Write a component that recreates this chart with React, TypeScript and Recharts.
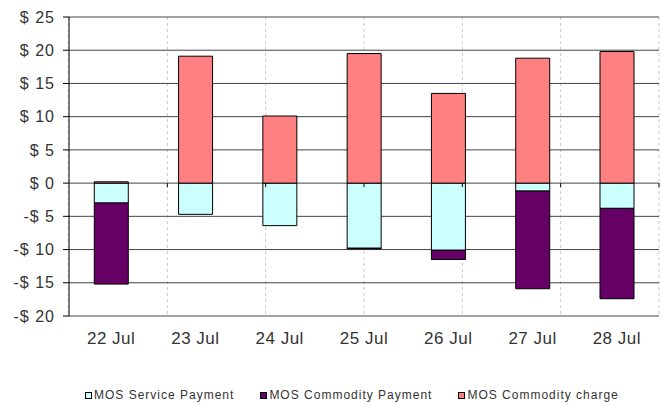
import { Bar, BarChart, CartesianGrid, Legend, ReferenceLine, XAxis, YAxis } from "recharts"

const days = ["22 Jul", "23 Jul", "24 Jul", "25 Jul", "26 Jul", "27 Jul", "28 Jul"]
const servicePayment = [-3.0, -4.7, -6.4, -9.8, -10.1, -1.2, -3.8]
const commodityPayment = [-12.2, 0, 0, -0.1, -1.4, -14.7, -13.6]
const commodityCharge = [0.2, 19.1, 10.1, 19.5, 13.5, 18.8, 19.8]
const yTicks = [-20, -15, -10, -5, 0, 5, 10, 15, 20, 25]
const boundaries = [1, 2, 3, 4, 5, 6, 7]

const series = [
  { key: "service", name: "MOS Service Payment", color: "#CCFFFF" },
  { key: "payment", name: "MOS Commodity Payment", color: "#660066" },
  { key: "charge", name: "MOS Commodity charge", color: "#FF8080" },
]

const data = days.map((day, i) => ({
  day,
  service: servicePayment[i],
  payment: commodityPayment[i],
  charge: commodityCharge[i],
}))

const font = "'Liberation Sans', Arial, sans-serif"

const money = (v: number) => (v < 0 ? `-$ ${-v}` : `$ ${v}`)

function LegendRow() {
  return (
    <div
      style={{
        display: "flex",
        alignItems: "center",
        height: 20,
        paddingLeft: 85,
        gap: 26,
        transform: "translateY(2px)",
        fontFamily: font,
        fontSize: 12,
        letterSpacing: 1,
        color: "#333",
      }}
    >
      {series.map((s) => (
        <div key={s.key} style={{ display: "flex", alignItems: "center" }}>
          <span
            style={{
              width: 5,
              height: 5,
              border: "1px solid #000",
              background: s.color,
              marginRight: 2,
            }}
          />
          <span>{s.name}</span>
        </div>
      ))}
    </div>
  )
}

export default function App() {
  return (
    <div>
      <style>{`body{margin:0}`}</style>
      <BarChart
        width={661}
        height={403}
        data={data}
        stackOffset="sign"
        barCategoryGap="30%"
        margin={{ top: 17, right: 2, bottom: 0, left: 0 }}
      >
        <XAxis xAxisId="grid" type="number" domain={[0, 7]} ticks={boundaries} hide />
        <CartesianGrid xAxisId="grid" horizontal={false} strokeDasharray="3 3" stroke="#c8c8c8" />
        <CartesianGrid vertical={false} stroke="#444" />
        <XAxis
          dataKey="day"
          axisLine={false}
          tickLine={false}
          tickMargin={10}
          height={67}
          interval={0}
          tick={{ fill: "#333", fontSize: 17, fontFamily: font, letterSpacing: 0.5 }}
        />
        <YAxis
          domain={[-20, 25]}
          ticks={yTicks}
          interval={0}
          width={69}
          tickSize={6}
          tickMargin={8}
          tickFormatter={money}
          axisLine={{ stroke: "#000" }}
          tickLine={{ stroke: "#000" }}
          tick={{ fill: "#333", fontSize: 16, fontFamily: font, letterSpacing: 1 }}
        />
        {boundaries.map((b) => (
          <ReferenceLine
            key={b}
            xAxisId="grid"
            segment={[
              { x: b, y: 0 },
              { x: b, y: -0.6 },
            ]}
            stroke="#000"
          />
        ))}
        {series.map((s) => (
          <Bar
            key={s.key}
            dataKey={s.key}
            name={s.name}
            stackId="a"
            fill={s.color}
            stroke="#000"
            strokeWidth={1}
            isAnimationActive={false}
          />
        ))}
        <Legend
          verticalAlign="bottom"
          content={<LegendRow />}
          wrapperStyle={{ left: 0, bottom: 0, width: 661, height: 20 }}
        />
      </BarChart>
    </div>
  )
}
